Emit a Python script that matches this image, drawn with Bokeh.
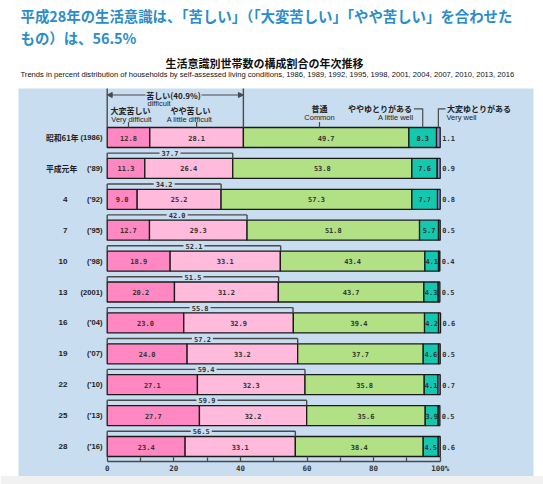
from bokeh.plotting import figure
from bokeh.models import (Range1d, LinearAxis, FixedTicker, ColumnDataSource,
                          Label, Arrow, NormalHead)
from bokeh.core.properties import value
from bokeh.embed import file_html
from bokeh.resources import INLINE

# ---- data ---------------------------------------------------------------
era_labels = ["昭和61年", "平成元年", "4", "7", "10", "13", "16", "19", "22", "25", "28"]
year_labels = ["(1986)", "(’89)", "(’92)", "(’95)", "(’98)", "(2001)",
               "(’04)", "(’07)", "(’10)", "(’13)", "(’16)"]
very_difficult = [12.8, 11.3, 9.0, 12.7, 18.9, 20.2, 23.0, 24.0, 27.1, 27.7, 23.4]
little_difficult = [28.1, 26.4, 25.2, 29.3, 33.1, 31.2, 32.9, 33.2, 32.3, 32.2, 33.1]
common = [49.7, 53.8, 57.3, 51.8, 43.4, 43.7, 39.4, 37.7, 35.8, 35.6, 38.4]
little_well = [8.3, 7.6, 7.7, 5.7, 4.1, 4.3, 4.2, 4.6, 4.1, 3.9, 4.5]
very_well = [1.1, 0.9, 0.8, 0.5, 0.4, 0.5, 0.6, 0.5, 0.7, 0.5, 0.6]
difficult_total = [40.9, 37.7, 34.2, 42.0, 52.1, 51.5, 55.8, 57.2, 59.4, 59.9, 56.5]
axis_ticks = [0, 20, 40, 60, 80, 100]

# ---- layout -------------------------------------------------------------
W, H = 543, 484
ZERO_PX, PCT_PX = 106.7, 3.33          # where 0 % sits, pixels per percent
ROW0_Y, ROW_STEP, BAR_H = 137.0, 30.9, 20.0

JP_NAME = "Noto Sans CJK JP"
JP = value(JP_NAME)
NUM = value("DejaVu Sans Mono")
LAT = value("Liberation Sans")
INK = "#222222"
LINE = "#4a4a4a"


def px(xp):
    """horizontal pixel -> percent coordinate"""
    return (xp - ZERO_PX) / PCT_PX


n = len(era_labels)
ys = [ROW0_Y + i * ROW_STEP for i in range(n)]

p = figure(width=W, height=H, output_backend="svg", toolbar_location=None,
           x_range=Range1d(px(0), px(W)), y_range=Range1d(H, 0),
           x_axis_location=None, y_axis_location=None, min_border=0,
           outline_line_color=None, background_fill_color="white",
           border_fill_color="white")
p.grid.visible = False

# panel backgrounds
p.quad(left=px(18), right=px(533), top=88, bottom=475.5,
       fill_color="#c9ddf0", line_color=None)
p.quad(left=px(0), right=px(W), top=475.5, bottom=H,
       fill_color="#f1f1f1", line_color=None)

# ---- headings -----------------------------------------------------------
p.add_layout(Label(x=20, x_units="screen", y=15,
                   text="平成28年の生活意識は、「苦しい」（「大変苦しい」「やや苦しい」を合わせた",
                   text_font=JP_NAME, text_font_size="14.4px", text_font_style="bold",
                   text_color="#2b8dc8", text_baseline="middle"))
p.add_layout(Label(x=20, x_units="screen", y=37, text="もの）は、56.5%",
                   text_font=JP_NAME, text_font_size="14.4px", text_font_style="bold",
                   text_color="#2b8dc8", text_baseline="middle"))
p.add_layout(Label(x=264, x_units="screen", y=62, text="生活意識別世帯数の構成割合の年次推移",
                   text_font=JP_NAME, text_font_size="11px", text_font_style="bold",
                   text_color="#111111", text_baseline="middle", text_align="center"))
p.add_layout(Label(x=20, x_units="screen", y=73.5,
                   text="Trends in percent distribution of households by self-assessed living conditions, "
                        "1986, 1989, 1992, 1995, 1998, 2001, 2004, 2007, 2010, 2013, 2016",
                   text_font="Liberation Sans", text_font_size="7.6px",
                   text_color="#111111", text_baseline="middle"))

# ---- stacked bars -------------------------------------------------------
segments = [
    (very_difficult, "#ff88c2"),
    (little_difficult, "#ffbadc"),
    (common, "#b2e084"),
    (little_well, "#14c8b0"),
    (very_well, "#8a8fd8"),
]
left = [0.0] * n
edges = []
for k, (vals, color) in enumerate(segments):
    right = [l + v for l, v in zip(left, vals)]
    src = ColumnDataSource(dict(y=ys, left=left, right=right,
                                mid=[(l + r) / 2 for l, r in zip(left, right)],
                                label=[f"{v:.1f}" for v in vals]))
    p.hbar(y="y", left="left", right="right", height=BAR_H, source=src,
           fill_color=color, line_color="#1a1a1a", line_width=1.3)
    if k < 4:
        p.text(x="mid", y="y", text="label", source=src, text_font=NUM,
               text_font_size="7px", text_font_style="bold", text_color="#333333",
               text_align="center", text_baseline="middle")
    else:
        p.text(x=[r + 0.6 for r in right], y=ys, text=src.data["label"],
               text_font=NUM, text_font_size="7px", text_font_style="bold",
               text_color="#333333", text_align="left", text_baseline="middle")
    edges.append((list(left), right))
    left = right

# row labels
first_two = [0, 1]
p.text(x=[px(45.5) for _ in first_two], y=[ys[i] for i in first_two],
       text=[era_labels[i] for i in first_two], text_font=JP, text_font_size="7.8px",
       text_font_style="bold", text_color=INK, text_align="left", text_baseline="middle")
p.text(x=[px(67)] * (n - 2), y=ys[2:], text=era_labels[2:], text_font=LAT,
       text_font_size="8px", text_font_style="bold", text_color=INK,
       text_align="right", text_baseline="middle")
p.text(x=[px(102)] * n, y=ys, text=year_labels, text_font=LAT, text_font_size="7.6px",
       text_font_style="bold", text_color=INK, text_align="right", text_baseline="middle")

# ---- "difficult" brackets above each bar ---------------------------------
gap = 10.5 / PCT_PX
bx0, bx1, by0, by1 = [], [], [], []
lab_x, lab_y, lab_t = [], [], []
for i in range(1, n):
    top = ys[i] - BAR_H / 2
    yl = top - 5.3
    tot = difficult_total[i]
    mid = tot / 2
    bx0 += [0, mid + gap, 0, tot]
    bx1 += [mid - gap, tot, 0, tot]
    by0 += [yl, yl, yl, yl]
    by1 += [yl, yl, top, top]
    lab_x.append(mid)
    lab_y.append(yl)
    lab_t.append(f"{tot:.1f}")
p.segment(x0=bx0, y0=by0, x1=bx1, y1=by1, line_color=LINE, line_width=1.4)
p.text(x=lab_x, y=lab_y, text=lab_t, text_font=NUM, text_font_size="7px",
       text_font_style="bold", text_color="#333333", text_align="center",
       text_baseline="middle")

# ---- category header over the first bar -----------------------------------
top0 = ys[0] - BAR_H / 2
tot0 = difficult_total[0]
p.segment(x0=[0, tot0], y0=[88, 88], x1=[0, tot0], y1=[top0, top0],
          line_color=LINE, line_width=1.4)
hy = 94.5
for xs, xe in [(px(145), 0), (px(201), tot0)]:
    p.add_layout(Arrow(x_start=xs, y_start=hy, x_end=xe, y_end=hy,
                       line_color=LINE, line_width=1.2,
                       end=NormalHead(size=5, fill_color=LINE, line_color=LINE)))
p.text(x=[px(173)], y=[hy], text=[f"苦しい({tot0:.1f}%)"], text_font=JP,
       text_font_size="8px", text_font_style="bold", text_color=INK,
       text_align="center", text_baseline="middle")
p.text(x=[px(147)], y=[103], text=["difficult"], text_font=LAT,
       text_font_size="7.5px", text_color=INK, text_align="left", text_baseline="middle")

vd_mid = very_difficult[0] / 2
ld_mid = very_difficult[0] + little_difficult[0] / 2
cm_mid = px(319)
lw_mid = edges[3][0][0] + little_well[0] / 2
vw_mid = edges[4][0][0] + very_well[0] / 2

p.text(x=[px(130), px(190)], y=[110, 110], text=["大変苦しい", "やや苦しい"],
       text_font=JP, text_font_size="8px", text_font_style="bold", text_color=INK,
       text_align="center", text_baseline="middle")
p.text(x=[px(131), px(189)], y=[118.5, 118.5], text=["Very difficult", "A little difficult"],
       text_font=LAT, text_font_size="7.5px", text_color=INK,
       text_align="center", text_baseline="middle")
p.text(x=[cm_mid], y=[108.3], text=["普通"], text_font=JP, text_font_size="8px",
       text_font_style="bold", text_color=INK, text_align="center", text_baseline="middle")
p.text(x=[cm_mid], y=[117], text=["Common"], text_font=LAT, text_font_size="7.5px",
       text_color=INK, text_align="center", text_baseline="middle")
p.text(x=[px(411.5)], y=[108.3], text=["ややゆとりがある"], text_font=JP,
       text_font_size="8px", text_font_style="bold", text_color=INK,
       text_align="right", text_baseline="middle")
p.text(x=[px(413)], y=[117], text=["A little well"], text_font=LAT,
       text_font_size="7.5px", text_color=INK, text_align="right", text_baseline="middle")
p.text(x=[px(446.5)], y=[108.3], text=["大変ゆとりがある"], text_font=JP,
       text_font_size="8px", text_font_style="bold", text_color=INK,
       text_align="left", text_baseline="middle")
p.text(x=[px(446)], y=[117], text=["Very well"], text_font=LAT,
       text_font_size="7.5px", text_color=INK, text_align="left", text_baseline="middle")

# leader lines from the captions down to the first bar
p.segment(x0=[vd_mid, ld_mid, cm_mid], y0=[121.5] * 3, x1=[vd_mid, ld_mid, cm_mid],
          y1=[top0] * 3, line_color=LINE, line_width=1.2)
p.line(x=[px(413.5), lw_mid, lw_mid], y=[108.3, 108.3, top0], line_color=LINE, line_width=1.2)
p.line(x=[px(445), vw_mid, vw_mid], y=[108.3, 108.3, top0], line_color=LINE, line_width=1.2)

# ---- percent axis ---------------------------------------------------------
ax = LinearAxis(fixed_location=461,
                ticker=FixedTicker(ticks=axis_ticks,
                                   minor_ticks=[t + 10 for t in axis_ticks[:-1]]),
                bounds=(0, 100))
ax.major_label_overrides = {100: "100%"}
ax.axis_line_color = LINE
ax.axis_line_width = 1.5
ax.major_tick_in, ax.major_tick_out = 5, 0
ax.minor_tick_in, ax.minor_tick_out = 4, 0
ax.major_tick_line_color = LINE
ax.minor_tick_line_color = LINE
ax.major_tick_line_width = 1.3
ax.minor_tick_line_width = 1.3
ax.major_label_standoff = 2
ax.major_label_text_font = "DejaVu Sans Mono"
ax.major_label_text_font_size = "7.5px"
ax.major_label_text_font_style = "bold"
ax.major_label_text_color = "#333333"
p.add_layout(ax, "below")

open("out.html", "w").write(file_html(p, INLINE))
